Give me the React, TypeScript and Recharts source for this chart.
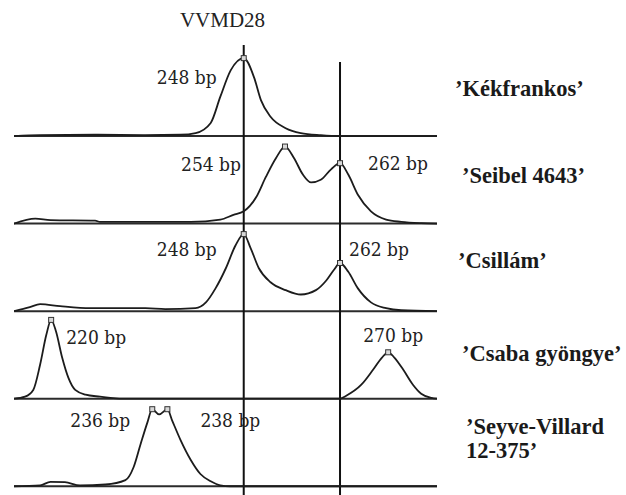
import { LineChart, Line, XAxis, YAxis, ReferenceLine, ReferenceDot } from 'recharts'

// fragment size (bp) vs. fluorescence signal, one trace per cultivar (lane height = 100)
const kekfrankos: [number, number][] = [
  [214.6, 0], [218.4, 1], [226.4, 1.5], [233.7, 1], [238.8, 1.5], [241.0, 3.4], [243.2, 15], [244.6, 45],
  [246.1, 75], [248.0, 89], [249.5, 67], [250.5, 41], [251.9, 22], [254.1, 9], [256.3, 3.4], [259.2, 1],
  [262.0, 0], [276.1, 0],
]
const seibel: [number, number][] = [
  [214.6, 0], [217.7, 5.7], [219.9, 4], [226.4, 3.4], [227.1, 2], [240.3, 2], [244.6, 4.6], [246.5, 10],
  [248.0, 14], [249.8, 30], [251.2, 53], [252.7, 75], [254.0, 88], [255.3, 75], [256.6, 56], [257.8, 47],
  [259.2, 50], [260.7, 62], [262.0, 69], [263.2, 56], [264.6, 33], [266.5, 14], [268.7, 4.6], [270.9, 2],
  [273.8, 0.5], [276.1, 0],
]
const csillam: [number, number][] = [
  [214.6, 0], [216.9, 4.6], [218.4, 8], [221.3, 5.7], [225.7, 3.4], [233.7, 3.4], [236.6, 2.3], [241.0, 3.4],
  [242.5, 10], [243.9, 26], [245.4, 49], [246.8, 75], [248.0, 88], [249.0, 72], [250.2, 49], [251.9, 33],
  [254.1, 24], [256.3, 19], [258.5, 24], [260.0, 35], [261.1, 47], [262.0, 55], [263.2, 45], [264.6, 26],
  [266.5, 10], [268.7, 3.4], [270.9, 1], [276.1, 0],
]
const csaba: [number, number][] = [
  [214.6, 0], [216.2, 2.3], [217.4, 10], [218.4, 39], [219.3, 73], [220.0, 90], [220.7, 77], [221.6, 47],
  [222.5, 24], [223.5, 10], [225.0, 4.6], [227.1, 2.3], [228.6, 1], [231.0, 0], [262.0, 0], [262.9, 3.4],
  [265.1, 16], [266.8, 33], [268.1, 47], [269.0, 53], [269.9, 47], [271.2, 33], [272.6, 16], [273.8, 5.7],
  [275.3, 1], [276.1, 0],
]
const seyve: [number, number][] = [
  [214.6, 0], [218.4, 1], [219.9, 5], [222.0, 4.6], [224.2, 1], [227.9, 2], [230.8, 7], [232.0, 22],
  [233.0, 48], [234.0, 73], [234.7, 88], [235.7, 82], [236.9, 88], [237.6, 75], [238.8, 53], [240.3, 30],
  [241.7, 14], [243.2, 5.7], [244.6, 1], [246.0, 0], [276.1, 0],
]

const traces = [kekfrankos, seibel, csillam, csaba, seyve]
const cultivars = ['’Kékfrankos’', '’Seibel 4643’', '’Csillám’', '’Csaba gyöngye’', '’Seyve-Villard', '12-375’']
const markerSizes = [248, 262]

// called peaks: lane, bp position in trace, label
const peaks = [
  { lane: 0, bp: 248.0, label: '248 bp' },
  { lane: 1, bp: 254.0, label: '254 bp' },
  { lane: 1, bp: 262.0, label: '262 bp' },
  { lane: 2, bp: 248.0, label: '248 bp' },
  { lane: 2, bp: 262.0, label: '262 bp' },
  { lane: 3, bp: 220.0, label: '220 bp' },
  { lane: 3, bp: 269.0, label: '270 bp' },
  { lane: 4, bp: 234.7, label: '236 bp' },
  { lane: 4, bp: 236.9, label: '238 bp' },
]

// label placement relative to the peak marker (px)
const labelOffsets = [
  { dx: -27, dy: 19, anchor: 'end' },
  { dx: -44, dy: 17, anchor: 'end' },
  { dx: 28, dy: 0, anchor: 'start' },
  { dx: -27, dy: 15, anchor: 'end' },
  { dx: 9, dy: -14, anchor: 'start' },
  { dx: 15, dy: 17, anchor: 'start' },
  { dx: -25, dy: -17, anchor: 'start' },
  { dx: -22, dy: 11, anchor: 'end' },
  { dx: 33, dy: 11, anchor: 'start' },
]

const LANE = 100
const laneBase = (lane: number) => (traces.length - 1 - lane) * LANE
const laneData = traces.map((t, lane) => t.map(([bp, v]) => ({ bp, y: laneBase(lane) + v })))

const labelFont = '"DejaVu Serif Condensed", "DejaVu Serif", serif'

export default function App() {
  return (
    <div style={{ position: 'absolute', left: 0, top: 0, width: 626, height: 495, background: '#fff', overflow: 'hidden' }}>
      <LineChart width={626} height={495} margin={{ top: 45, right: 189, bottom: 0, left: 14 }}>
        <XAxis type="number" dataKey="bp" domain={[214.6, 276.1]} allowDataOverflow hide />
        <YAxis type="number" domain={[-10, 504]} allowDataOverflow hide />
        {traces.map((_, lane) => (
          <ReferenceLine key={'b' + lane} y={laneBase(lane)} stroke="#2b2b2b" strokeWidth={2} />
        ))}
        <ReferenceLine segment={[{ x: markerSizes[0], y: -10 }, { x: markerSizes[0], y: 504 }]} stroke="#111" strokeWidth={2} />
        <ReferenceLine segment={[{ x: markerSizes[1], y: -10 }, { x: markerSizes[1], y: 484.6 }]} stroke="#111" strokeWidth={2} />
        {laneData.map((d, lane) => (
          <Line
            key={lane}
            data={d}
            dataKey="y"
            type="monotone"
            dot={false}
            stroke="#1c1c1c"
            strokeWidth={1.8}
            isAnimationActive={false}
          />
        ))}
        {peaks.map((p, i) => {
          const v = traces[p.lane].find(([bp]) => bp === p.bp)?.[1] ?? 0
          const o = labelOffsets[i]
          return (
            <ReferenceDot
              key={'p' + i}
              x={p.bp}
              y={laneBase(p.lane) + v}
              shape={(props: any) => (
                <g>
                  <rect x={props.cx - 2.5} y={props.cy - 2.5} width={5} height={5} fill="#d8d8d8" stroke="#333" strokeWidth={1} />
                  <text
                    x={props.cx + o.dx}
                    y={props.cy + o.dy}
                    textAnchor={o.anchor as any}
                    dominantBaseline="central"
                    fontFamily={labelFont}
                    fontSize={19}
                    fill="#222"
                  >
                    {p.label}
                  </text>
                </g>
              )}
            />
          )
        })}
      </LineChart>
      <svg width={626} height={495} style={{ position: 'absolute', left: 0, top: 0, pointerEvents: 'none' }}>
        <text x={222.5} y={27} textAnchor="middle" fontFamily='"Liberation Serif", serif' fontSize={21} fill="#222">
          VVMD28
        </text>
        {[
          { x: 455, y: 96 },
          { x: 462, y: 183 },
          { x: 458, y: 268 },
          { x: 462, y: 361 },
          { x: 466, y: 434 },
          { x: 466, y: 458 },
        ].map((pos, i) => (
          <text key={i} x={pos.x} y={pos.y} fontFamily='"Liberation Serif", serif' fontWeight="bold" fontSize={22.5} fill="#1a1a1a">
            {cultivars[i]}
          </text>
        ))}
      </svg>
    </div>
  )
}
